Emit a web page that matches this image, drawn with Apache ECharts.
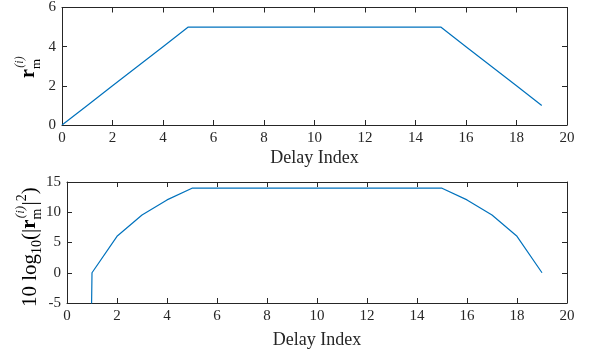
<!DOCTYPE html>
<html>
<head>
<meta charset="utf-8">
<script src="https://cdn.jsdelivr.net/npm/echarts@6/dist/echarts.min.js"></script>
<style>
  html, body { margin: 0; padding: 0; background: #fff; }
  #chart { width: 596px; height: 356px; }
</style>
</head>
<body>
<div id="chart"></div>
<script>
// delay index and tap magnitudes
var delayIndex = [0, 1, 2, 3, 4, 5, 6, 7, 8, 9, 10, 11, 12, 13, 14, 15, 16, 17, 18, 19];
var rMag = [0, 1, 2, 3, 4, 5, 5, 5, 5, 5, 5, 5, 5, 5, 5, 5, 4, 3, 2, 1];
// 10*log10(|r|^2) in dB, first tap is (almost) zero -> very negative
var rDb = [-313, 0, 6.02, 9.54, 12.04, 13.98, 13.98, 13.98, 13.98, 13.98, 13.98,
           13.98, 13.98, 13.98, 13.98, 13.98, 12.04, 9.54, 6.02, 0];

var xTicks = { min: 0, max: 20, interval: 2 };
var yTicksTop = { min: 0, max: 6, interval: 2 };
var yTicksBot = { min: -5, max: 15, interval: 5 };

var axisColor = '#262626';
var serif = '"Liberation Serif", "DejaVu Serif", serif';
var lineBlue = '#0072BD';

function pairs(xs, ys) {
    return xs.map(function (x, i) { return [x, ys[i]]; });
}

function xAx(grid, pos, ticks, nameGap) {
    return {
        type: 'value', gridIndex: grid, position: pos,
        min: ticks.min, max: ticks.max, interval: ticks.interval,
        name: pos === 'bottom' ? 'Delay Index' : '',
        nameLocation: 'middle', nameGap: nameGap,
        nameTextStyle: { fontFamily: serif, fontSize: 18, color: axisColor },
        axisLine: { show: true, onZero: false, lineStyle: { color: axisColor, width: 1 } },
        axisTick: { show: true, inside: true, length: 5, lineStyle: { color: axisColor } },
        axisLabel: { show: pos === 'bottom', margin: 6, fontFamily: serif, fontSize: 15, color: axisColor },
        splitLine: { show: false }
    };
}

function yAx(grid, pos, ticks) {
    return {
        type: 'value', gridIndex: grid, position: pos,
        min: ticks.min, max: ticks.max, interval: ticks.interval,
        axisLine: { show: true, onZero: false, lineStyle: { color: axisColor, width: 1 } },
        axisTick: { show: true, inside: true, length: 5, lineStyle: { color: axisColor } },
        axisLabel: { show: pos === 'left', margin: 6, fontFamily: serif, fontSize: 15, color: axisColor },
        splitLine: { show: false }
    };
}

function richStyle(big, small) {
    var lh = big + 8;
    return {
        n: { fontFamily: serif, fontSize: big, color: axisColor, lineHeight: lh, verticalAlign: 'middle' },
        b: { fontFamily: serif, fontSize: big, fontWeight: 'bold', color: axisColor, lineHeight: lh, verticalAlign: 'middle' },
        sub: { fontFamily: serif, fontSize: small, color: axisColor, verticalAlign: 'bottom', lineHeight: lh },
        sup: { fontFamily: serif, fontSize: small, color: axisColor, verticalAlign: 'top', lineHeight: lh },
        sp: { width: 3, lineHeight: lh }
    };
}

var myChart = echarts.init(document.getElementById('chart'));

var option = {
    animation: false,
    backgroundColor: '#fff',
    grid: [
        { left: 62, right: 29, top: 7, height: 118 },
        { left: 67, right: 29, top: 182, height: 121 }
    ],
    xAxis: [
        xAx(0, 'bottom', xTicks, 24),
        xAx(0, 'top', xTicks, 0),
        xAx(1, 'bottom', xTicks, 28),
        xAx(1, 'top', xTicks, 0)
    ],
    yAxis: [
        yAx(0, 'left', yTicksTop),
        yAx(0, 'right', yTicksTop),
        yAx(1, 'left', yTicksBot),
        yAx(1, 'right', yTicksBot)
    ],
    series: [
        {
            type: 'line', xAxisIndex: 0, yAxisIndex: 0,
            data: pairs(delayIndex, rMag),
            showSymbol: false, clip: true,
            lineStyle: { color: lineBlue, width: 1.2 }
        },
        {
            type: 'line', xAxisIndex: 2, yAxisIndex: 2,
            data: pairs(delayIndex, rDb),
            showSymbol: false, clip: true,
            lineStyle: { color: lineBlue, width: 1.2 }
        }
    ],
    graphic: [
        // top y label: r_m^(i)
        {
            type: 'text', x: 29, y: 78, rotation: Math.PI / 2,
            style: {
                text: '{b|r}{sub|m}', rich: richStyle(20, 13),
                align: 'left', verticalAlign: 'middle'
            }
        },
        {
            type: 'text', x: 20, y: 62, rotation: Math.PI / 2,
            style: {
                text: '(i)', fontFamily: serif, fontSize: 12, fontStyle: 'italic', fill: axisColor,
                align: 'center', verticalAlign: 'middle'
            }
        },
        // bottom y label: 10 log10(|r_m^(i)|^2)
        {
            type: 'text', x: 30, y: 307, rotation: Math.PI / 2,
            style: {
                text: '{n|10 log}{sub|10}{n|(|}{b|r}{sub|m}{sp| }{n||}{sup|2}{n|)}', rich: richStyle(21, 14),
                align: 'left', verticalAlign: 'middle'
            }
        },
        {
            type: 'text', x: 21, y: 212, rotation: Math.PI / 2,
            style: {
                text: '(i)', fontFamily: serif, fontSize: 13, fontStyle: 'italic', fill: axisColor,
                align: 'center', verticalAlign: 'middle'
            }
        }
    ]
};

myChart.setOption(option);
</script>
</body>
</html>
